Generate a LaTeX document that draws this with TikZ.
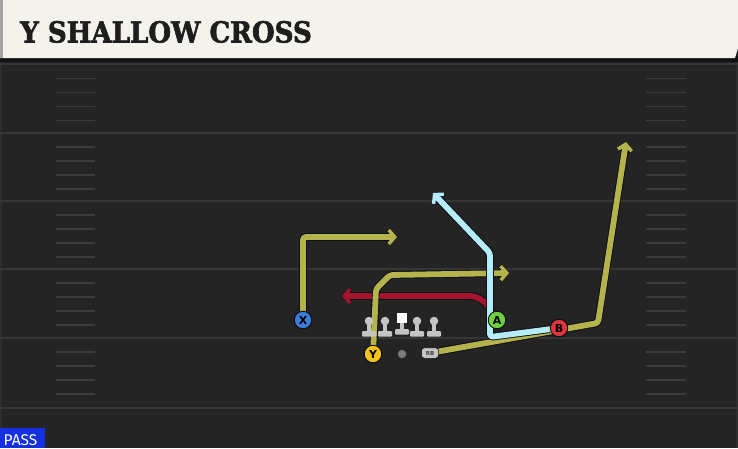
\documentclass[tikz,border=0pt]{standalone}
\usepackage{fontspec}
\setmainfont{DejaVu Sans}
\newfontfamily\titlefont{DejaVu Serif Bold}[FakeStretch=0.9,FakeBold=2]
\newfontfamily\passfont{Fira Sans}
\usetikzlibrary{arrows.meta}
\definecolor{fieldbg}{HTML}{242424}
\definecolor{headerbg}{HTML}{F4F2EC}
\definecolor{headeredge}{HTML}{A3A3A3}
\definecolor{darkstrip}{HTML}{121212}
\definecolor{yardc}{HTML}{363636}
\definecolor{hashc}{HTML}{3B3B3B}
\definecolor{edgec}{HTML}{2E2E2E}
\definecolor{titlec}{HTML}{1E1E1E}
\definecolor{passblue}{HTML}{1530E0}
\definecolor{olivec}{HTML}{B5B44C}
\definecolor{redc}{HTML}{A5142E}
\definecolor{bluec}{HTML}{B4ECF7}
\definecolor{xblue}{HTML}{3C7BD6}
\definecolor{yyellow}{HTML}{F2C318}
\definecolor{agreen}{HTML}{71D13D}
\definecolor{bred}{HTML}{E0353B}
\definecolor{lgray}{HTML}{C4C4C4}
\definecolor{ballc}{HTML}{7A7A7A}
\definecolor{outlinec}{HTML}{0C0E18}
\begin{document}
\begin{tikzpicture}[x=1pt,y=-1pt,
  route/.style={line width=5.8pt, line cap=round, line join=round, rounded corners=3pt,
    preaction={draw=outlinec, line width=7.6pt}},
  tip/.style={-{Straight Barb[length=6pt,width=14pt,line width=0pt 0.6]}},
  player/.style={circle, draw=outlinec, line width=0.9pt, minimum size=17.5pt, inner sep=0pt,
    font=\bfseries\fontsize{11}{11}\selectfont, text=black},
  rbstyle/.style={draw=outlinec, line width=0.5pt, fill=lgray, rounded corners=3pt, minimum width=17pt,
    minimum height=10.5pt, inner sep=0pt, font=\bfseries\fontsize{5.5}{5.5}\selectfont, text=black!75},
  yardline/.style={draw=yardc, line width=2pt},
  hashmark/.style={draw=hashc, line width=1.6pt},
  lhead/.style={circle, fill=lgray, minimum size=8.5pt, inner sep=0pt},
]
\useasboundingbox (0,0) rectangle (738,448);
% background
\fill[fieldbg] (0,0) rectangle (738,448);
\fill[darkstrip] (0,56) rectangle (738,62);
\fill[headerbg] (0,0) -- (738,0) -- (738,48) -- (735,58) -- (0,58) -- cycle;
\fill[headeredge] (0,0) rectangle (3,58);
\node[anchor=base west, inner sep=0pt, text=titlec,
  font=\titlefont\fontsize{29}{29}\selectfont] (title) at (20,42.5) {Y SHALLOW CROSS};
% field edges
\draw[edgec, line width=1.5pt] (1,62) -- (1,448);
\draw[edgec, line width=1.5pt] (737,62) -- (737,448);
% yard lines
\foreach \yy in {64,133,201,269,338,408} \draw[yardline] (0,\yy) -- (738,\yy);
% hash marks
\foreach \L in {64.5,133,201,269,338} {
  \foreach \d in {14,28,42,56} {
    \draw[hashmark] (56,\L+\d) -- (95,\L+\d);
    \draw[hashmark] (646,\L+\d) -- (686,\L+\d);
  }
}
% PASS label
\node[anchor=south west, fill=passblue, minimum width=45pt, minimum height=20pt, inner sep=0pt] (passbox) at (0,448) {};
\node[anchor=base west, inner sep=0pt, text=white, font=\passfont\fontsize{15.5}{15.5}\selectfont] (pass) at (3.5,445) {PASS};
% players
\node[player, fill=xblue] (X) at (303,320) {X};
\node[player, fill=yyellow] (Y) at (373,354) {Y};
\node[player, fill=agreen] (A) at (497,320) {A};
\node[player, fill=bred] (B) at (559,328) {B};
\node[circle, fill=ballc, minimum size=8.5pt, inner sep=0pt] (ball) at (402,354) {};
\node[rbstyle] (RB) at (430,353) {RB};
% route coordinates
\coordinate (xc) at (303,237);
\coordinate (xend) at (397,237);
\coordinate (yc1) at (376,289);
\coordinate (yc2) at (390,275);
\coordinate (yend) at (509,273);
\coordinate (rbc) at (598,323);
\coordinate (rbend) at (626,142);
\coordinate (bc1) at (490,337);
\coordinate (bc2) at (490,253);
\coordinate (bend) at (433,193);
\coordinate (ac) at (481,296);
\coordinate (aend) at (342,296);
% routes
\draw[route, draw=redc, tip, rounded corners=11pt] (A) -- (ac) -- (aend);
\draw[route, draw=olivec, tip] (X) -- (xc) -- (xend);
\draw[route, draw=olivec, tip] (Y) -- (yc1) -- (yc2) -- (yend);
\draw[route, draw=olivec, tip] (RB) -- (rbc) -- (rbend);
\draw[route, draw=bluec, tip] (B) -- (bc1) -- (bc2) -- (bend);
% redraw players on top
\node[player, fill=xblue] at (X) {X};
\node[player, fill=yyellow] at (Y) {Y};
\node[player, fill=agreen] at (A) {A};
\node[player, fill=bred] at (B) {B};
\node[rbstyle] at (RB) {RB};
% linemen
\foreach \nm/\xx in {L1/369,L2/385,L4/417,L5/434} {
  \fill[lgray] (\xx-2,321) rectangle (\xx+2,332);
  \fill[lgray, rounded corners=1pt] (\xx-7,331) rectangle (\xx+7,336.5);
  \node[lhead] (\nm) at (\xx,321) {};
}
\fill[lgray] (400,321) rectangle (404,330);
\fill[lgray, rounded corners=1pt] (395,329) rectangle (409,334.5);
\node[fill=white, minimum size=9.5pt, inner sep=0pt] (L3) at (402,318) {};
\end{tikzpicture}
\end{document}
